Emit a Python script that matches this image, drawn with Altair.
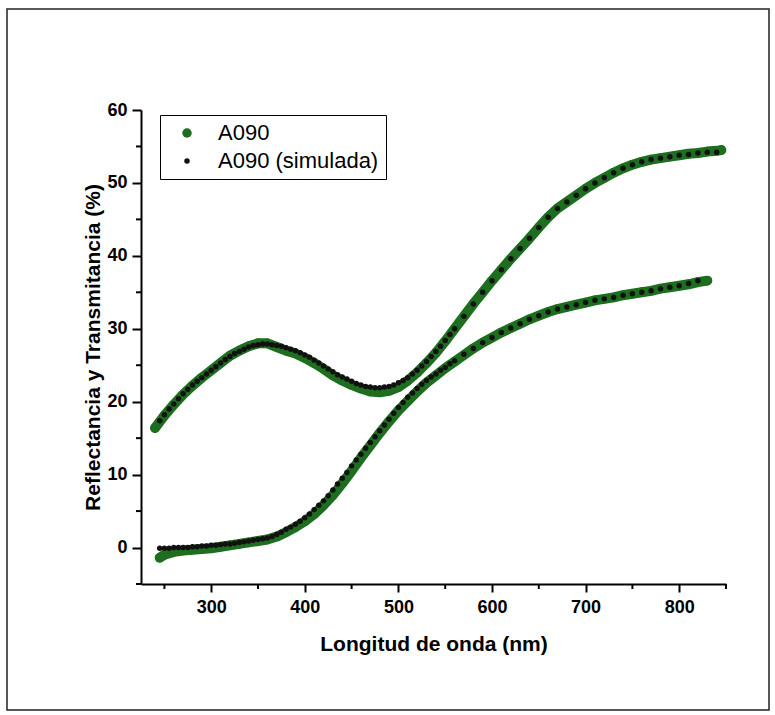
import altair as alt
import pandas as pd

GREEN = "#1d6e1f"
BLACK = "#111111"
FONT = "Liberation Sans"

# ---------------- data ----------------
wl_sim_fine = [245, 250, 255, 260, 265, 270, 275, 280, 285, 290,
               295, 300, 305, 310, 315, 320, 325, 330, 335, 340,
               345, 350, 355, 360, 365, 370, 375, 380, 385, 390,
               395, 400, 405, 410, 415, 420, 425, 430, 435, 440,
               445, 450, 455, 460, 465, 470, 475, 480, 485, 490,
               495, 500, 505, 510, 515, 520, 525, 530, 535, 540,
               545, 550, 555, 560]
wl_sim_upper_tail = [570, 580, 590, 600, 610, 620, 630, 640, 650, 660,
                     670, 680, 690, 700, 710, 720, 730, 740, 750, 760,
                     770, 780, 790, 800, 810, 820, 830, 840]
wl_sim_lower_tail = [570, 580, 590, 600, 610, 620, 630, 640, 650, 660,
                     670, 680, 690, 700, 710, 720, 730, 740, 750, 760,
                     770, 780, 790, 800, 810, 820]

sim_upper = [17.4, 18.2, 19.0, 19.7, 20.4, 21.1, 21.7, 22.3, 22.8, 23.3,
             23.8, 24.3, 24.8, 25.3, 25.8, 26.2, 26.6, 26.9, 27.2, 27.5,
             27.7, 27.8, 27.9, 27.9, 27.8, 27.7, 27.6, 27.4, 27.2, 27.0,
             26.7, 26.4, 26.1, 25.7, 25.3, 24.9, 24.5, 24.1, 23.7, 23.4,
             23.1, 22.8, 22.5, 22.3, 22.1, 22.0, 21.9, 21.9, 22.0, 22.1,
             22.3, 22.6, 22.9, 23.3, 23.8, 24.3, 24.9, 25.5, 26.2, 26.9,
             27.6, 28.4, 29.2, 30.0,
             31.7, 33.4, 35.0, 36.6, 38.1, 39.6, 41.0, 42.4, 43.9, 45.3,
             46.5, 47.4, 48.3, 49.2, 50.0, 50.7, 51.4, 52.0, 52.5, 52.9,
             53.2, 53.4, 53.6, 53.8, 53.9, 54.1, 54.2, 54.2]

sim_lower = [-0.1, -0.1, -0.1, 0.0, 0.0, 0.0, 0.0, 0.1, 0.1, 0.2,
             0.2, 0.3, 0.3, 0.4, 0.5, 0.5, 0.6, 0.7, 0.8, 0.9,
             1.0, 1.1, 1.2, 1.3, 1.5, 1.8, 2.1, 2.5, 2.8, 3.2,
             3.6, 4.1, 4.6, 5.2, 5.8, 6.4, 7.1, 7.9, 8.7, 9.5,
             10.3, 11.2, 12.0, 12.8, 13.6, 14.4, 15.2, 16.0, 16.8, 17.6,
             18.4, 19.2, 19.9, 20.6, 21.2, 21.8, 22.4, 22.9, 23.4, 23.8,
             24.3, 24.7, 25.2, 25.6,
             26.5, 27.3, 28.1, 28.8, 29.5, 30.1, 30.7, 31.3, 31.8, 32.3,
             32.7, 33.0, 33.3, 33.6, 33.9, 34.1, 34.3, 34.6, 34.8, 35.0,
             35.2, 35.5, 35.7, 35.9, 36.2, 36.6]

wl_meas_upper = [240, 250, 260, 270, 280, 290, 300, 310, 320, 330, 340,
                 350, 360, 370, 380, 390, 400, 410, 420, 430, 440,
                 450, 460, 470, 480, 490, 500, 510, 520, 530, 540,
                 550, 560, 570, 580, 590, 600, 610, 620, 630, 640,
                 650, 660, 670, 680, 690, 700, 710, 720, 730, 740,
                 750, 760, 770, 780, 790, 800, 810, 820, 830, 840, 845]
meas_upper = [16.4, 18.1, 19.6, 21.0, 22.2, 23.3, 24.3, 25.3, 26.3, 27.0, 27.6,
              28.0, 28.0, 27.5, 27.0, 26.6, 26.0, 25.3, 24.5, 23.6, 22.9,
              22.3, 21.8, 21.4, 21.3, 21.5, 22.0, 22.9, 24.0, 25.3, 26.7,
              28.3, 30.0, 31.7, 33.4, 35.0, 36.6, 38.1, 39.6, 41.0, 42.4,
              43.9, 45.3, 46.5, 47.4, 48.3, 49.2, 50.0, 50.7, 51.4, 52.0,
              52.5, 52.9, 53.2, 53.4, 53.6, 53.8, 54.0, 54.1, 54.3, 54.4, 54.5]

wl_meas_lower = [245, 250, 260, 270, 280, 290, 300, 310, 320, 330, 340,
                 350, 360, 370, 380, 390, 400, 410, 420, 430, 440,
                 450, 460, 470, 480, 490, 500, 510, 520, 530, 540,
                 550, 560, 570, 580, 590, 600, 610, 620, 630, 640,
                 650, 660, 670, 680, 690, 700, 710, 720, 730, 740,
                 750, 760, 770, 780, 790, 800, 810, 820, 830]
meas_lower = [-1.4, -1.0, -0.6, -0.4, -0.3, -0.2, -0.1, 0.1, 0.3, 0.5, 0.7,
              0.9, 1.1, 1.5, 2.1, 2.8, 3.6, 4.6, 5.8, 7.2, 8.8,
              10.5, 12.3, 14.0, 15.7, 17.3, 18.8, 20.1, 21.4, 22.6, 23.6,
              24.6, 25.5, 26.4, 27.3, 28.1, 28.8, 29.5, 30.1, 30.7, 31.3,
              31.8, 32.3, 32.7, 33.0, 33.3, 33.6, 33.9, 34.1, 34.3, 34.6,
              34.8, 35.0, 35.2, 35.5, 35.7, 35.9, 36.1, 36.4, 36.6]

series_names = ["A090", "A090 (simulada)"]
x_major = [300, 400, 500, 600, 700, 800]
x_minor = [250, 350, 450, 550, 650, 750, 850]
y_major = [0, 10, 20, 30, 40, 50, 60]
y_minor = [-5, 5, 15, 25, 35, 45, 55]

# ---------------- tables ----------------
rows = []
for w, v in zip(wl_meas_upper, meas_upper):
    rows.append({"wl": w, "val": v, "serie": series_names[0], "curva": "mu"})
for w, v in zip(wl_meas_lower, meas_lower):
    rows.append({"wl": w, "val": v, "serie": series_names[0], "curva": "ml"})
for w, v in zip(wl_sim_fine + wl_sim_upper_tail, sim_upper):
    rows.append({"wl": w, "val": v, "serie": series_names[1], "curva": "su"})
for w, v in zip(wl_sim_fine + wl_sim_lower_tail, sim_lower):
    rows.append({"wl": w, "val": v, "serie": series_names[1], "curva": "sl"})
df = pd.DataFrame(rows)
df_meas = df[df["serie"] == series_names[0]]

W, H = 585, 474
xscale = alt.Scale(domain=[225, 850], nice=False, zero=False)
yscale = alt.Scale(domain=[-5, 60], nice=False, zero=False)

xaxis = alt.Axis(values=x_major, title="Longitud de onda (nm)", grid=False,
                 tickSize=8, tickWidth=2, domainWidth=2, domainColor="black",
                 tickColor="black", labelColor="black", titleColor="black",
                 labelFont=FONT, labelFontSize=18, labelFontWeight="bold",
                 labelPadding=6, titleFont=FONT, titleFontSize=21,
                 titleFontWeight="bold", titlePadding=17)
yaxis = alt.Axis(values=y_major, title="Reflectancia y Transmitancia (%)", grid=False,
                 tickSize=9, tickWidth=2, domainWidth=2, domainColor="black",
                 tickColor="black", labelColor="black", titleColor="black",
                 labelFont=FONT, labelFontSize=18, labelFontWeight="bold",
                 labelPadding=5, titleFont=FONT, titleFontSize=21,
                 titleFontWeight="bold", titlePadding=3)

legend = alt.Legend(title=None, orient="none", legendX=19, legendY=5,
                    padding=7, strokeColor="black", fillColor="white",
                    labelFont=FONT, labelFontSize=22, labelColor="black",
                    labelLimit=0, symbolOffset=9, labelOffset=20, rowPadding=6,
                    symbolType="circle", symbolStrokeWidth=0)

band = alt.Chart(df_meas).mark_line(
    color=GREEN, strokeWidth=10, strokeCap="round", strokeJoin="round"
).encode(
    x=alt.X("wl:Q", scale=xscale, axis=xaxis),
    y=alt.Y("val:Q", scale=yscale, axis=yaxis),
    detail="curva:N",
)

points = alt.Chart(df).mark_circle(opacity=1).encode(
    x=alt.X("wl:Q", scale=xscale, axis=xaxis),
    y=alt.Y("val:Q", scale=yscale, axis=yaxis),
    color=alt.Color("serie:N", scale=alt.Scale(domain=series_names, range=[GREEN, BLACK]),
                    legend=legend),
    size=alt.Size("serie:N", scale=alt.Scale(domain=series_names, range=[90, 30]),
                  legend=legend),
)

xminor = alt.Chart(pd.DataFrame({"wl": x_minor})).mark_rule(
    color="black", strokeWidth=2
).encode(
    x=alt.X("wl:Q", scale=xscale, axis=xaxis),
    y=alt.value(H), y2=alt.value(H + 5),
)
yminor = alt.Chart(pd.DataFrame({"val": y_minor})).mark_rule(
    color="black", strokeWidth=2
).encode(
    y=alt.Y("val:Q", scale=yscale, axis=yaxis),
    x=alt.value(0), x2=alt.value(-5),
)

frame = alt.Chart(pd.DataFrame({"k": [0]})).mark_rect(
    fill="white", fillOpacity=0, stroke="#222222", strokeWidth=1.5
).encode(
    x=alt.value(7 - 141), x2=alt.value(769 - 141),
    y=alt.value(9 - 110), y2=alt.value(710 - 110),
)

chart = alt.layer(frame, band, points, xminor, yminor).properties(
    width=W, height=H,
    autosize=alt.AutoSizeParams(type="none"),
    padding={"left": 141, "top": 110, "right": 775 - 141 - W, "bottom": 715 - 110 - H},
    background="white",
).configure_view(strokeWidth=0)

chart.save("out.html", embed_options={"renderer": "svg", "actions": False})
